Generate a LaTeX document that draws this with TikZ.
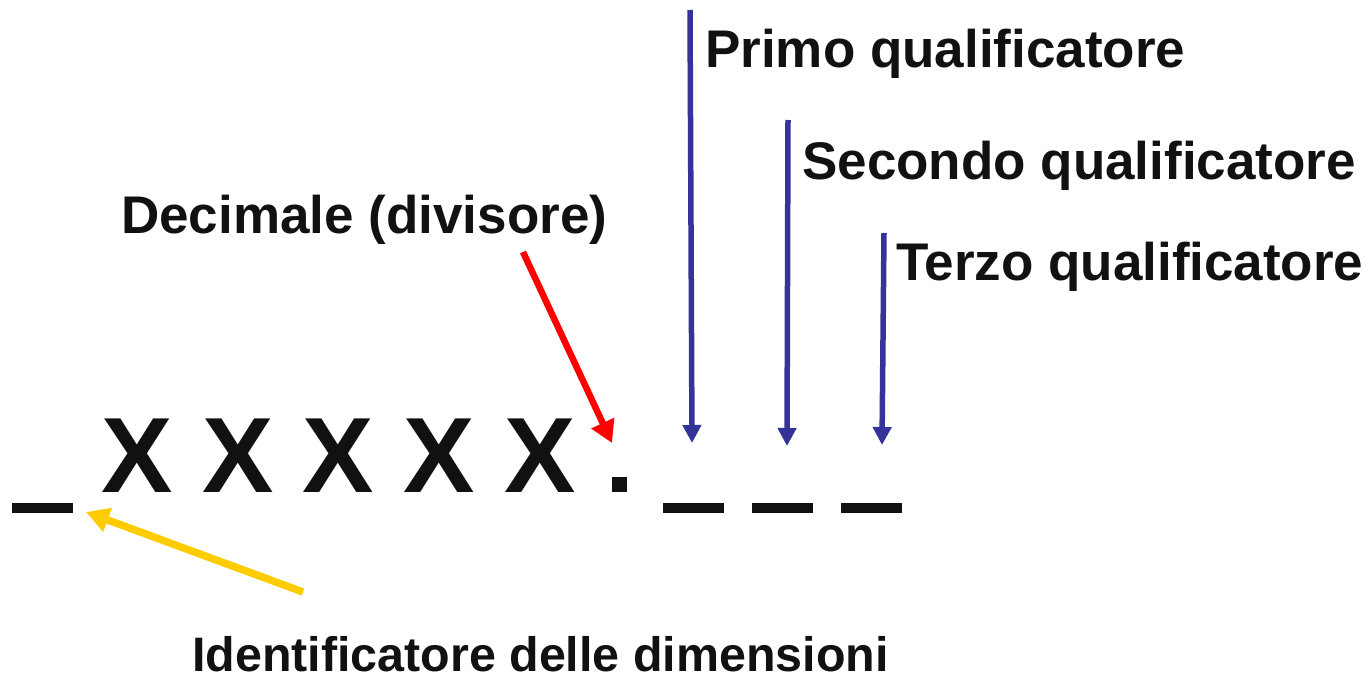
\documentclass[tikz,border=0pt]{standalone}
\usepackage{fontspec}
\setmainfont{Liberation Sans}
\usetikzlibrary{arrows.meta}
\definecolor{ink}{HTML}{111111}
\definecolor{qblue}{HTML}{333399}
\definecolor{qyellow}{HTML}{FFCC00}
\tikzset{
  lbl/.style={anchor=base west, inner sep=0pt, text=ink, font=\bfseries\fontsize{53}{60}\selectfont},
  bigx/.style={anchor=base, inner sep=0pt, text=ink, font=\bfseries\fontsize{107}{120}\selectfont},
  bar/.style={fill=ink, draw=none, inner sep=0pt, minimum width=61pt, minimum height=10pt},
  dotbox/.style={fill=ink, draw=none, inner sep=0pt, minimum width=15pt, minimum height=15pt},
  qarrow/.style={draw=qblue, line width=5.5pt, -{Triangle[width=18pt,length=18pt]}},
  rarrow/.style={draw=red, line width=6.5pt, -{Triangle[width=24pt,length=22pt]}},
  yarrow/.style={draw=qyellow, line width=7.5pt, -{Triangle[width=24pt,length=23pt]}}
}
\begin{document}
\begin{tikzpicture}[x=1pt,y=-1pt]
\useasboundingbox (0,0) rectangle (1371,677);
% underscore and X characters
\node[bar] (u0) at (42.5,508) {};
\node[bigx] (x1) at (137,492) {X};
\node[bigx] (x2) at (237.75,492) {X};
\node[bigx] (x3) at (338.5,492) {X};
\node[bigx] (x4) at (439.25,492) {X};
\node[bigx] (x5) at (540,492) {X};
\node[dotbox] (dot) at (619.5,484.5) {};
\node[bar] (u1) at (693.5,508) {};
\node[bar] (u2) at (782.5,508) {};
\node[bar] (u3) at (871.5,508) {};
% labels
\node[lbl] (primo) at (705,68) {Primo qualificatore};
\node[lbl] (secondo) at (802,179) {Secondo qualificatore};
\node[lbl] (terzo) at (896,280) {Terzo qualificatore};
\node[lbl] (decimale) at (121,233) {Decimale (divisore)};
\node[lbl, font=\bfseries\fontsize{48.4}{56}\selectfont] (ident) at (192,671) {Identificatore delle dimensioni};
% arrow end points
\coordinate (p1) at (690,10);
\coordinate (t1) at (692,443);
\coordinate (p2) at (788,120);
\coordinate (t2) at (787,446);
\coordinate (p3) at (884,233);
\coordinate (t3) at (882,445);
\coordinate (rs) at (523,252);
\coordinate (rt) at (612,443);
\coordinate (ys) at (303,592);
\coordinate (yt) at (86,512);
\draw[qarrow] (p1) -- (t1);
\draw[qarrow] (p2) -- (t2);
\draw[qarrow] (p3) -- (t3);
\draw[rarrow] (rs) -- (rt);
\draw[yarrow] (ys) -- (yt);
\end{tikzpicture}
\end{document}
